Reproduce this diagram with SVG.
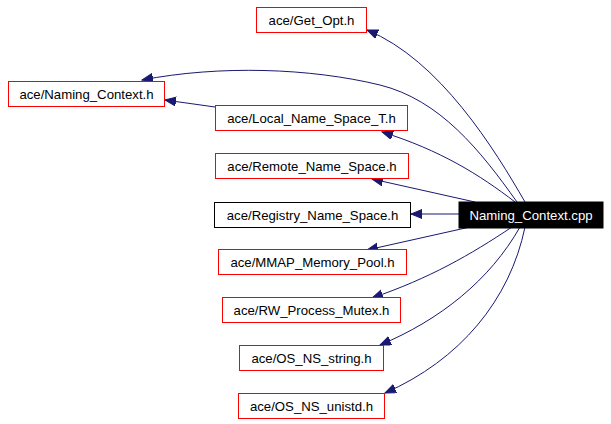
<svg xmlns="http://www.w3.org/2000/svg" width="611" height="424" viewBox="0 0 611 424">
<style>
.n rect{fill:#fff;stroke:#f00;stroke-width:1}
.n text{font-family:"Liberation Sans",Arial,sans-serif;font-size:13.2px;text-anchor:middle;fill:#000}
.e path{fill:none;stroke:#191970;stroke-width:1;marker-end:url(#a)}
</style>
<defs><marker id="a" markerUnits="userSpaceOnUse" markerWidth="12" markerHeight="10" refX="11" refY="4.5" orient="auto"><path d="M0,0 L11,4.5 L0,9 Z" fill="#191970" stroke="#191970"/></marker></defs>
<rect width="611" height="424" fill="#fff"/>
<g class="e" id="edges">
<path d="M525,202 C495,150 440,60 367,30"/>
<path d="M517,202 C480,150 440,100 380,85 C310,68 220,65 142,80"/>
<path d="M215,107 L165,100"/>
<path d="M515,202 C480,175 440,150 382,132"/>
<path d="M475,202 L372,179"/>
<path d="M459,214 L411,214"/>
<path d="M470,227 L367,250"/>
<path d="M512,227 C470,255 430,278 372,298"/>
<path d="M520,227 C490,280 440,320 380,345"/>
<path d="M525,227 C510,300 460,360 385,393"/>
</g>
<g class="n" id="n_getopt"><rect x="256.5" y="7.5" width="110" height="25"/><text x="311.5" y="24.5">ace/Get_Opt.h</text></g>
<g class="n" id="n_nctxh"><rect x="8.5" y="81.5" width="156" height="25"/><text x="86.5" y="98.5">ace/Naming_Context.h</text></g>
<g class="n" id="n_local"><rect x="215.5" y="105.5" width="192" height="25"/><text x="311.5" y="122.5">ace/Local_Name_Space_T.h</text></g>
<g class="n" id="n_remote"><rect x="215.5" y="153.5" width="193" height="25"/><text x="312" y="170.5">ace/Remote_Name_Space.h</text></g>
<g class="n" id="n_registry"><rect x="214.5" y="202.5" width="196" height="25" style="stroke:#000"/><text x="312.5" y="219.5">ace/Registry_Name_Space.h</text></g>
<g class="n" id="n_cpp"><rect x="459" y="202" width="144" height="26" style="fill:#000;stroke:#000"/><text x="531" y="219.5" style="fill:#fff">Naming_Context.cpp</text></g>
<g class="n" id="n_mmap"><rect x="218.5" y="249.5" width="188" height="25"/><text x="312.5" y="266.5">ace/MMAP_Memory_Pool.h</text></g>
<g class="n" id="n_rw"><rect x="222.5" y="297.5" width="178" height="25"/><text x="311.5" y="314.5">ace/RW_Process_Mutex.h</text></g>
<g class="n" id="n_string"><rect x="239.5" y="345.5" width="144" height="25"/><text x="311.5" y="362.5">ace/OS_NS_string.h</text></g>
<g class="n" id="n_unistd"><rect x="238.5" y="393.5" width="146" height="25"/><text x="311.5" y="410.5">ace/OS_NS_unistd.h</text></g>
</svg>
